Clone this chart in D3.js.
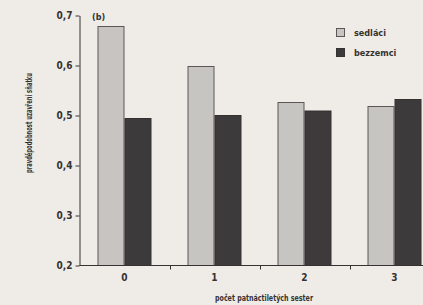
<!DOCTYPE html>
<html>
<head>
<meta charset="utf-8">
<script src="https://cdn.jsdelivr.net/npm/d3@7"></script>
<style>
  body { margin: 0; background: #efece7; }
  svg { display: block; font-family: "Liberation Sans Narrow", "DejaVu Sans Condensed", sans-serif; }
</style>
</head>
<body>
<svg id="chart" width="423" height="305"></svg>
<script>
// data
const categories = ['0', '1', '2', '3'];
const seriesNames = ['sedláci', 'bezzemci'];
const sedlaci = [0.678, 0.598, 0.526, 0.518];
const bezzemci = [0.494, 0.500, 0.509, 0.532];
const yTicks = [0.2, 0.3, 0.4, 0.5, 0.6, 0.7];

const colors = { 'sedláci': '#c7c5c2', 'bezzemci': '#3d3a3b' };
const borders = { 'sedláci': '#5a5856', 'bezzemci': '#343132' };
const ink = '#353232';

const svg = d3.select('#chart');

// paper background
svg.append('rect')
    .attr('width', 423)
    .attr('height', 305)
    .attr('fill', '#efece7');

// the plot runs off the right edge of the page in the scan
const x = d3.scaleBand()
    .domain(categories)
    .range([79.5, 439.5])
    .paddingInner(0.4)
    .paddingOuter(0.2);

const xInner = d3.scaleBand()
    .domain(seriesNames)
    .range([0, x.bandwidth()]);

const y = d3.scaleLinear()
    .domain([0.2, 0.7])
    .range([265.5, 15.5]);

const rows = categories.map((c, i) => ({
    cat: c,
    values: [
        { name: 'sedláci', value: sedlaci[i] },
        { name: 'bezzemci', value: bezzemci[i] }
    ]
}));

// bars
svg.append('g')
    .selectAll('g')
    .data(rows)
    .join('g')
    .attr('transform', d => `translate(${x(d.cat)},0)`)
    .selectAll('rect')
    .data(d => d.values)
    .join('rect')
    .attr('x', d => Math.round(xInner(d.name)) + 0.5)
    .attr('y', d => y(d.value))
    .attr('width', xInner.bandwidth() - 1)
    .attr('height', d => y(0.2) - y(d.value))
    .attr('fill', d => colors[d.name])
    .attr('stroke', d => borders[d.name])
    .attr('stroke-width', 1);

// y axis
const yAxis = svg.append('g')
    .attr('transform', 'translate(79.5,0)')
    .call(d3.axisLeft(y)
        .tickValues(yTicks)
        .tickSize(4)
        .tickSizeOuter(0)
        .tickPadding(3)
        .tickFormat(d => d3.format('.1f')(d).replace('.', ',')));

yAxis.selectAll('path, line').attr('stroke', ink);
yAxis.selectAll('text')
    .attr('font-size', 10)
    .attr('font-weight', 'bold')
    .attr('font-family', '"Liberation Sans Narrow", "DejaVu Sans Condensed", sans-serif')
    .attr('fill', ink);

// x axis: ticks sit between categories, labels under the groups
const step = x.step();
const xAxis = svg.append('g');
xAxis.append('line')
    .attr('x1', 79.5)
    .attr('x2', 440)
    .attr('y1', 265.5)
    .attr('y2', 265.5)
    .attr('stroke', ink);
xAxis.selectAll('.sep')
    .data(categories.slice(1))
    .join('line')
    .attr('class', 'sep')
    .attr('x1', d => Math.round(x(d) - x.paddingInner() * step / 2) + 0.5)
    .attr('x2', d => Math.round(x(d) - x.paddingInner() * step / 2) + 0.5)
    .attr('y1', 265.5)
    .attr('y2', 269.5)
    .attr('stroke', ink);
xAxis.selectAll('.lab')
    .data(categories)
    .join('text')
    .attr('class', 'lab')
    .attr('x', d => x(d) + x.bandwidth() / 2)
    .attr('y', 281)
    .attr('text-anchor', 'middle')
    .attr('font-size', 10)
    .attr('font-weight', 'bold')
    .attr('fill', ink)
    .text(d => d);

// axis titles
svg.append('text')
    .attr('transform', 'translate(32,123) rotate(-90)')
    .attr('text-anchor', 'middle')
    .attr('font-size', 8)
    .attr('font-weight', 'bold')
    .attr('fill', ink)
    .attr('textLength', 100)
    .attr('lengthAdjust', 'spacingAndGlyphs')
    .text('pravděpodobnost uzavření sňatku');

svg.append('text')
    .attr('x', 215)
    .attr('y', 301)
    .attr('font-size', 8)
    .attr('font-weight', 'bold')
    .attr('fill', ink)
    .attr('textLength', 98)
    .attr('lengthAdjust', 'spacingAndGlyphs')
    .text('počet patnáctiletých sester');

// panel label
svg.append('text')
    .attr('x', 92)
    .attr('y', 20)
    .attr('font-size', 9)
    .attr('font-weight', 'bold')
    .attr('fill', ink)
    .text('(b)');

// legend
const legend = svg.append('g')
    .selectAll('g')
    .data(seriesNames)
    .join('g')
    .attr('transform', (d, i) => `translate(336,${28 + i * 20})`);
legend.append('rect')
    .attr('x', 0.5)
    .attr('y', 0.5)
    .attr('width', 8)
    .attr('height', 8)
    .attr('fill', d => colors[d])
    .attr('stroke', d => borders[d]);
legend.append('text')
    .attr('x', 18)
    .attr('y', 8)
    .attr('font-size', 9)
    .attr('font-weight', 'bold')
    .attr('fill', ink)
    .text(d => d);
</script>
</body>
</html>
